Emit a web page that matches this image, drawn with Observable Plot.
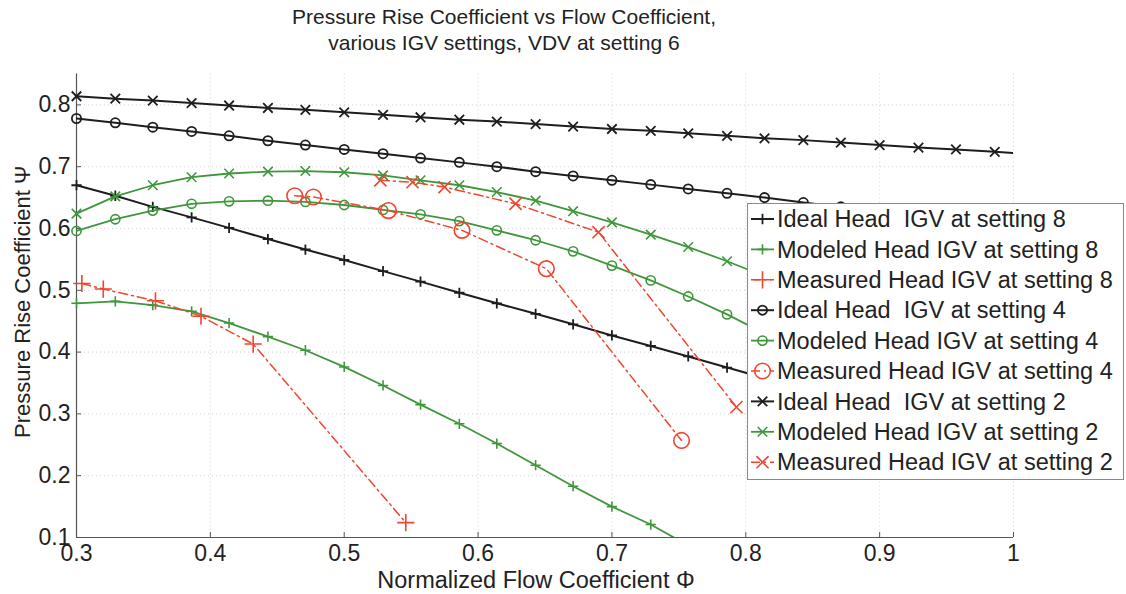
<!DOCTYPE html>
<html>
<head>
<meta charset="utf-8">
<script src="https://cdn.jsdelivr.net/npm/d3@7"></script>
<script src="https://cdn.jsdelivr.net/npm/@observablehq/plot@0.6"></script>
<style>
  body { margin: 0; background: #fff; font-family: "Liberation Sans", Arial, sans-serif; color: #222; }
  #wrap { position: relative; width: 1126px; height: 594px; overflow: hidden; }
  #title { position: absolute; left: 0; top: 4px; width: 1008px; text-align: center; font-size: 21px; line-height: 26px; color: #222; }
  #chart { position: absolute; left: 0; top: 62px; }
  #legend { position: absolute; left: 747px; top: 203px; }
</style>
</head>
<body>
<div id="wrap">
  <div id="title">Pressure Rise Coefficient vs Flow Coefficient,<br>various IGV settings, VDV at setting 6</div>
  <div id="chart"></div>
  <div id="legend"></div>
</div>
<script>
// ---- data ----
const phiGrid = [0.300, 0.329, 0.357, 0.386, 0.414, 0.443, 0.471, 0.500, 0.529, 0.557, 0.586, 0.614, 0.643, 0.671, 0.700, 0.729, 0.757, 0.786, 0.814, 0.843, 0.871, 0.900, 0.929, 0.957, 0.986, 1.014];

const idealHead8 = [0.670, 0.653, 0.635, 0.618, 0.601, 0.583, 0.566, 0.549, 0.531, 0.514, 0.496, 0.479, 0.462, 0.445, 0.427, 0.410, 0.393, 0.375, 0.358, 0.340, 0.323, 0.306, 0.288, 0.271, 0.254, 0.237];
const modeledHead8 = [0.479, 0.482, 0.476, 0.466, 0.447, 0.425, 0.403, 0.376, 0.346, 0.315, 0.284, 0.252, 0.217, 0.183, 0.150, 0.121, 0.087];
const measuredPhi8 = [0.304, 0.320, 0.359, 0.393, 0.432, 0.546];
const measuredHead8 = [0.511, 0.502, 0.483, 0.458, 0.413, 0.124];

const idealHead4 = [0.778, 0.771, 0.764, 0.757, 0.750, 0.742, 0.735, 0.728, 0.721, 0.714, 0.707, 0.700, 0.692, 0.685, 0.678, 0.671, 0.664, 0.657, 0.650, 0.642, 0.635, 0.628, 0.621, 0.614, 0.607, 0.600];
const modeledHead4 = [0.596, 0.615, 0.629, 0.640, 0.644, 0.645, 0.643, 0.638, 0.630, 0.623, 0.612, 0.597, 0.581, 0.563, 0.540, 0.516, 0.490, 0.461, 0.430, 0.397];
const measuredPhi4 = [0.463, 0.477, 0.533, 0.588, 0.651, 0.752];
const measuredHead4 = [0.653, 0.651, 0.629, 0.597, 0.535, 0.257];

const idealHead2 = [0.814, 0.810, 0.807, 0.803, 0.799, 0.795, 0.792, 0.788, 0.784, 0.780, 0.776, 0.773, 0.769, 0.765, 0.761, 0.758, 0.754, 0.750, 0.746, 0.743, 0.739, 0.735, 0.731, 0.728, 0.724, 0.720];
const modeledHead2 = [0.624, 0.652, 0.670, 0.683, 0.689, 0.692, 0.693, 0.691, 0.686, 0.678, 0.670, 0.659, 0.645, 0.628, 0.610, 0.590, 0.570, 0.547, 0.523, 0.497];
const measuredPhi2 = [0.527, 0.551, 0.575, 0.628, 0.690, 0.793];
const measuredHead2 = [0.678, 0.675, 0.667, 0.640, 0.594, 0.311];

const xTicks = [0.3, 0.4, 0.5, 0.6, 0.7, 0.8, 0.9, 1.0];
const yTicks = [0.1, 0.2, 0.3, 0.4, 0.5, 0.6, 0.7, 0.8];
const xLabel = "Normalized Flow Coefficient \u03A6";
const yLabel = "Pressure Rise Coefficient \u03A8";

const seriesNames = [
  "Ideal Head  IGV at setting 8", "Modeled Head IGV at setting 8", "Measured Head IGV at setting 8",
  "Ideal Head  IGV at setting 4", "Modeled Head IGV at setting 4", "Measured Head IGV at setting 4",
  "Ideal Head  IGV at setting 2", "Modeled Head IGV at setting 2", "Measured Head IGV at setting 2"
];

// ---- styles ----
const BLACK = "#1e1e1e", GREEN = "#3f973c", RED = "#f0452f";
const FONT = "'Liberation Sans', Arial, sans-serif";
const kindStyle = {
  ideal:    {stroke: BLACK, strokeWidth: 2,   dash: null,       r: {plus: 3.4, circle: 4.6, times: 4.4}, mw: 1.8},
  modeled:  {stroke: GREEN, strokeWidth: 1.8, dash: null,       r: {plus: 3.4, circle: 4.6, times: 4.4}, mw: 1.6},
  measured: {stroke: RED,   strokeWidth: 1.5, dash: "9,4,2,4",  r: {plus: 5.6, circle: 7.8, times: 5.6}, mw: 1.6}
};

const series = [
  {name: seriesNames[0], kind: "ideal",    symbol: "plus",   phi: phiGrid,     psi: idealHead8},
  {name: seriesNames[1], kind: "modeled",  symbol: "plus",   phi: phiGrid,     psi: modeledHead8},
  {name: seriesNames[2], kind: "measured", symbol: "plus",   phi: measuredPhi8, psi: measuredHead8},
  {name: seriesNames[3], kind: "ideal",    symbol: "circle", phi: phiGrid,     psi: idealHead4},
  {name: seriesNames[4], kind: "modeled",  symbol: "circle", phi: phiGrid,     psi: modeledHead4},
  {name: seriesNames[5], kind: "measured", symbol: "circle", phi: measuredPhi4, psi: measuredHead4},
  {name: seriesNames[6], kind: "ideal",    symbol: "times",  phi: phiGrid,     psi: idealHead2},
  {name: seriesNames[7], kind: "modeled",  symbol: "times",  phi: phiGrid,     psi: modeledHead2},
  {name: seriesNames[8], kind: "measured", symbol: "times",  phi: measuredPhi2, psi: measuredHead2}
];

const seriesMarks = [];
for (const s of series) {
  const st = kindStyle[s.kind];
  const rows = s.psi.map((v, i) => ({phi: s.phi[i], psi: v}));
  seriesMarks.push(Plot.line(rows, {x: "phi", y: "psi", stroke: st.stroke, strokeWidth: st.strokeWidth,
    strokeDasharray: st.dash, clip: true}));
  seriesMarks.push(Plot.dot(rows.filter(d => d.phi <= 1.0 && d.psi >= 0.1), {x: "phi", y: "psi",
    symbol: s.symbol, r: st.r[s.symbol], stroke: st.stroke, fill: "none", strokeWidth: st.mw}));
}

const fmt = d => String(+d.toFixed(1));

const chart = Plot.plot({
  width: 1126,
  height: 532,
  marginLeft: 76,
  marginRight: 113,
  marginTop: 11.5,
  marginBottom: 57,
  x: {domain: [0.3, 1.0]},
  y: {domain: [0.1, 0.85]},
  style: {fontFamily: FONT, fontSize: "23px", color: "#222", background: "white", overflow: "visible"},
  marks: [
    Plot.gridX(xTicks, {stroke: "#666", strokeOpacity: 0.3, strokeDasharray: "1,3"}),
    Plot.gridY(yTicks, {stroke: "#666", strokeOpacity: 0.3, strokeDasharray: "1,3"}),
    Plot.axisX({ticks: xTicks, tickFormat: fmt, tickSize: -5, tickPadding: 12, stroke: "#555", label: null}),
    Plot.axisY({ticks: yTicks, tickFormat: fmt, tickSize: -5, tickPadding: 11, stroke: "#555", label: null}),
    Plot.text([xLabel], {frameAnchor: "bottom", lineAnchor: "middle", dy: 43, dx: -9, fontSize: 23.5, fill: "#222"}),
    Plot.text([yLabel], {frameAnchor: "left", rotate: -90, textAnchor: "middle", lineAnchor: "middle", dx: -54, dy: -4, fontSize: 22, fill: "#222"}),
    Plot.ruleX([0.3], {stroke: "#555", strokeWidth: 1.2}),
    Plot.ruleY([0.1], {stroke: "#555", strokeWidth: 1.2}),
    ...seriesMarks
  ]
});
document.getElementById("chart").appendChild(chart);

// ---- legend ----
const LW = 377, LH = 277, rowH = 30.4, firstRow = 16;
const lsvg = d3.select("#legend").append("svg").attr("width", LW).attr("height", LH)
  .style("font-family", FONT);
lsvg.append("rect").attr("x", 0.5).attr("y", 0.5).attr("width", LW - 1).attr("height", LH - 1)
  .attr("fill", "white").attr("stroke", "#8a8a8a").attr("stroke-width", 1);
series.forEach((s, i) => {
  const st = kindStyle[s.kind];
  const cy = firstRow + i * rowH;
  const g = lsvg.append("g").attr("transform", `translate(0,${cy})`);
  g.append("line").attr("x1", 4).attr("x2", 27).attr("y1", 0).attr("y2", 0)
    .attr("stroke", st.stroke).attr("stroke-width", st.strokeWidth).attr("stroke-dasharray", st.dash);
  const symMap = {plus: d3.symbolPlus, circle: d3.symbolCircle, times: d3.symbolTimes};
  const r = st.r[s.symbol];
  g.append("path").attr("transform", "translate(15.5,0)")
    .attr("d", d3.symbol(symMap[s.symbol], Math.PI * r * r)())
    .attr("fill", "none").attr("stroke", st.stroke).attr("stroke-width", st.mw);
  g.append("text").attr("x", 30).attr("y", 0).attr("dy", "0.35em")
    .attr("font-size", "23.5px").attr("fill", "#222").style("white-space", "pre").text(s.name);
});
</script>
</body>
</html>
